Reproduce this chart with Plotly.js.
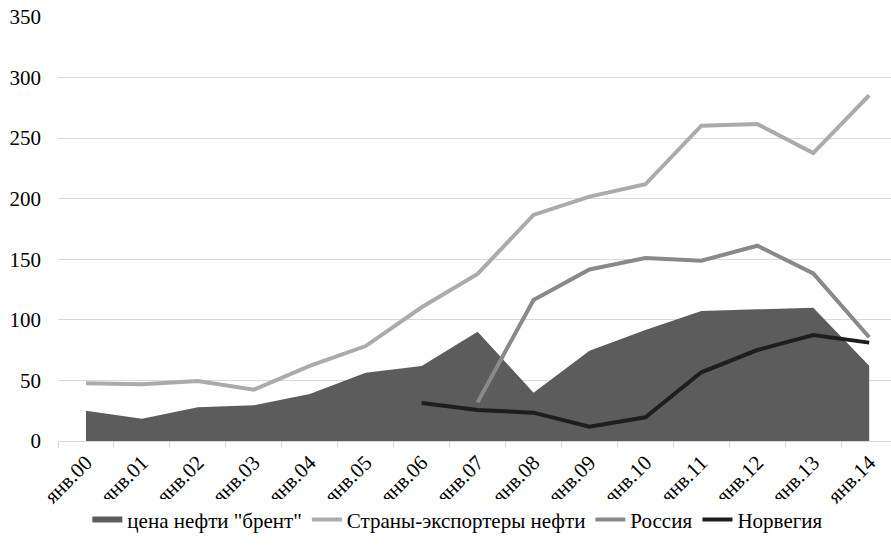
<!DOCTYPE html>
<html>
<head>
<meta charset="utf-8">
<script src="https://cdn.plot.ly/plotly-3.0.1.min.js"></script>
<style>html,body{margin:0;padding:0;background:#fff;}#chart{width:891px;height:558px;}</style>
</head>
<body>
<div id="chart"></div>
<script>
const categories = ["янв.00","янв.01","янв.02","янв.03","янв.04","янв.05","янв.06","янв.07","янв.08","янв.09","янв.10","янв.11","янв.12","янв.13","янв.14"];
const brent = [25, 18.4, 27.8, 29.5, 38.8, 56.4, 61.9, 90.2, 39.9, 74.5, 91.6, 107.3, 108.7, 110, 62.2];
const exporters = [47.6, 46.8, 49.5, 42.4, 62, 78.4, 110.4, 137.9, 186.6, 201.7, 211.9, 260.3, 261.7, 237.7, 285.4];
const russia = [null, null, null, null, null, null, null, 31.9, 116.4, 141.6, 151, 148.8, 161.2, 138.4, 85.6];
const norway = [null, null, null, null, null, null, 31.4, 25.6, 23.4, 11.8, 19.6, 56.7, 75.1, 87.5, 81.2];
const yTicks = [0, 50, 100, 150, 200, 250, 300, 350];

const FAMILY = 'Liberation Serif';
const mkFont = (s) => ({family: FAMILY, size: s || 21, color: '#000'});

const traces = [
  {x: categories, y: brent, name: 'цена нефти "брент"', type: 'scatter', mode: 'none', fill: 'tozeroy', fillcolor: '#5c5c5c'},
  {x: categories, y: exporters, name: 'Страны-экспортеры нефти', type: 'scatter', mode: 'lines', line: {color: '#ababab', width: 4}},
  {x: categories, y: russia, name: 'Россия', type: 'scatter', mode: 'lines', line: {color: '#898989', width: 4}},
  {x: categories, y: norway, name: 'Норвегия', type: 'scatter', mode: 'lines', line: {color: '#1e1e1e', width: 4}}
];

const layout = {
  width: 891, height: 558,
  margin: {l: 58, r: 0, t: 17, b: 117},
  paper_bgcolor: '#fff', plot_bgcolor: '#fff',
  font: mkFont(),
  showlegend: true,
  legend: {orientation: 'h', x: 0.48, xanchor: 'center', y: -0.186, yanchor: 'middle', font: mkFont(), traceorder: 'normal'},
  xaxis: {
    type: 'category', range: [-0.5, 14.39], tickson: 'boundaries',
    ticks: 'outside', ticklen: 6, tickcolor: '#d9d9d9', tickwidth: 1,
    showline: true, linecolor: '#d9d9d9', linewidth: 1,
    showgrid: false, tickangle: -45, tickfont: mkFont(21), fixedrange: true
  },
  yaxis: {
    range: [0, 350], tickvals: yTicks, ticktext: yTicks.map(String),
    showgrid: true, gridcolor: '#d9d9d9', gridwidth: 1,
    zeroline: false, showline: false, ticks: '', tickfont: mkFont(),
    ticklabelstandoff: 16, fixedrange: true
  }
};

Plotly.newPlot('chart', traces, layout, {displayModeBar: false, staticPlot: true});
</script>
</body>
</html>
